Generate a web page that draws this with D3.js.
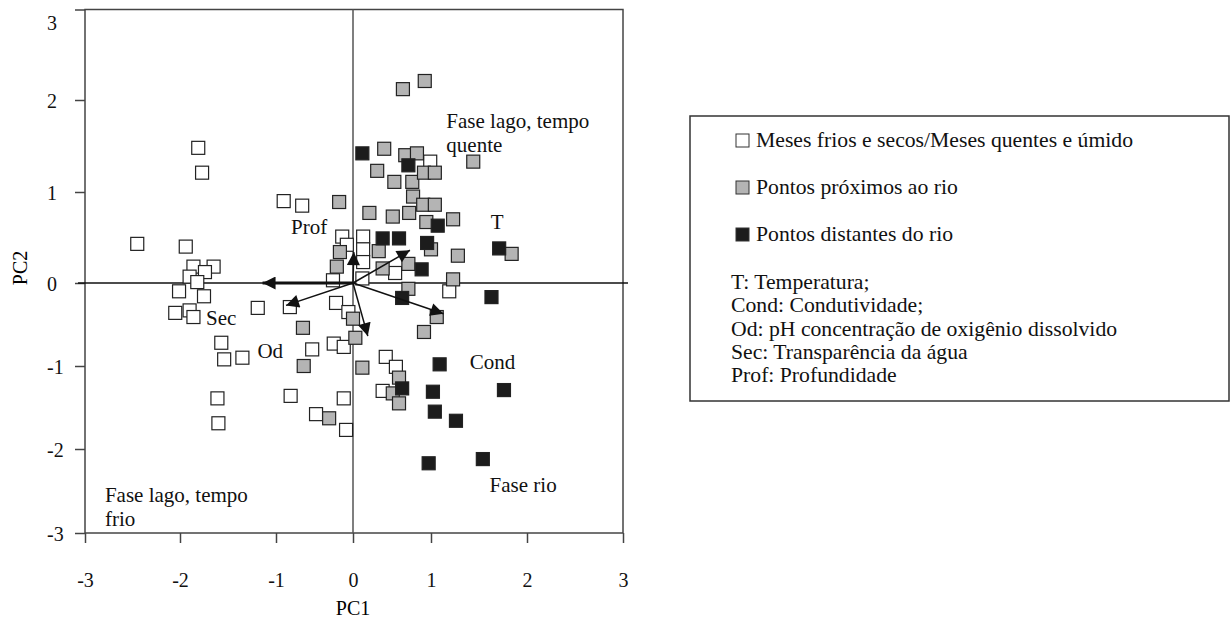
<!DOCTYPE html>
<html>
<head>
<meta charset="utf-8">
<script src="https://cdn.jsdelivr.net/npm/d3@7"></script>
<style>
  body { margin: 0; background: #fff; }
  svg { display: block; font-family: "Liberation Serif", "Times New Roman", serif; }
</style>
</head>
<body>
<script>
// tick values for both axes
var xTicks = [-3, -2, -1, 0, 1, 2, 3];
var yTicks = [-3, -2, -1, 0, 1, 2, 3];

// scores: open squares (meses frios e secos / quentes e úmido)
var whitePts = [
  [-1.81, 1.48], [-1.77, 1.21], [-2.45, 0.43], [-1.94, 0.40], [-1.86, 0.18],
  [-1.65, 0.18], [-1.74, 0.12], [-1.90, 0.07], [-1.82, 0.01], [-2.01, -0.10],
  [-1.75, -0.16], [-2.05, -0.36], [-1.90, -0.33], [-1.86, -0.41], [-1.19, -0.30],
  [-1.57, -0.72], [-1.54, -0.92], [-1.35, -0.90], [-1.61, -1.39], [-1.60, -1.69],
  [-0.90, 0.90], [-0.66, 0.85], [-0.14, 0.51], [-0.08, 0.42], [-0.26, 0.03],
  [-0.82, -0.29], [-0.22, -0.24], [-0.06, -0.35], [-0.25, -0.73], [-0.12, -0.77],
  [-0.53, -0.80], [-0.81, -1.36], [-0.12, -1.39], [-0.48, -1.58], [-0.09, -1.77],
  [0.13, 0.51], [0.13, 0.37], [0.13, 0.23], [0.12, 0.05], [0.42, -0.89],
  [0.55, -1.01], [0.38, -1.30], [1.19, -0.10], [0.54, 0.11], [0.99, 1.33]
];

// pontos próximos ao rio (grey)
var greyPts = [
  [0.64, 2.12], [0.92, 2.21], [0.40, 1.47], [0.67, 1.40], [0.82, 1.42],
  [1.44, 1.33], [0.31, 1.23], [0.53, 1.11], [0.76, 1.11], [0.91, 1.21],
  [1.04, 1.21], [0.77, 0.95], [0.90, 0.86], [1.04, 0.86], [-0.18, 0.89],
  [0.21, 0.77], [0.51, 0.73], [0.72, 0.77], [0.94, 0.67], [1.23, 0.70],
  [1.84, 0.32], [1.28, 0.30], [1.00, 0.37], [0.33, 0.35], [-0.17, 0.34],
  [-0.21, 0.18], [0.71, 0.21], [0.38, 0.16], [1.23, 0.04], [0.71, -0.07],
  [1.06, -0.41], [0.91, -0.59], [0.00, -0.43], [-0.65, -0.54], [0.03, -0.66],
  [-0.64, -1.00], [0.12, -1.02], [0.59, -1.14], [0.51, -1.33], [0.59, -1.45],
  [-0.31, -1.63]
];

// pontos distantes do rio (black)
var blackPts = [
  [0.12, 1.42], [0.71, 1.29], [1.07, 0.63], [0.38, 0.49], [0.59, 0.49],
  [0.95, 0.44], [1.71, 0.38], [0.88, 0.15], [0.63, -0.18], [1.63, -0.17],
  [1.09, -0.98], [0.63, -1.27], [1.02, -1.31], [1.76, -1.29], [1.04, -1.55],
  [1.26, -1.66], [0.97, -2.17], [1.54, -2.12]
];

// environmental vectors (loadings)
var vectors = [
  {name: "Sec", x: -1.14, y: 0.00, heavy: true},
  {name: "Od", x: -0.87, y: -0.27},
  {name: "Prof", x: 0.01, y: 0.34},
  {name: "", x: 0.19, y: -0.64},
  {name: "T", x: 0.73, y: 0.36},
  {name: "Cond", x: 1.13, y: -0.37}
];

// text labels inside the plot, in PC units
var vecLabels = [
  {text: "Prof", x: -0.57, y: 0.62},
  {text: "T", x: 1.69, y: 0.67},
  {text: "Sec", x: -1.57, y: -0.42},
  {text: "Od", x: -1.06, y: -0.81},
  {text: "Cond", x: 1.64, y: -0.95},
  {text: "Fase rio", x: 1.96, y: -2.43}
];
var phaseLabels = [
  {lines: ["Fase lago, tempo", "quente"], x: 1.16, y: 1.70},
  {lines: ["Fase lago, tempo", "frio"], x: -2.79, y: -2.63}
];

var legendItems = [
  {label: "Meses frios e secos/Meses quentes e úmido", fill: "#fff"},
  {label: "Pontos próximos ao rio", fill: "#b4b4b4"},
  {label: "Pontos distantes do rio", fill: "#1c1c1c"}
];
var legendNotes = [
  "T: Temperatura;",
  "Cond: Condutividade;",
  "Od: pH concentração de oxigênio dissolvido",
  "Sec: Transparência da água",
  "Prof: Profundidade"
];

var W = 1230, H = 619;
var svg = d3.select("body").append("svg")
    .attr("width", W)
    .attr("height", H);

// the original axes are not evenly spaced, so use piecewise scales
var x = d3.scaleLinear().domain(xTicks).range([85, 180, 276, 353, 431, 527, 623]);
var y = d3.scaleLinear().domain(yTicks).range([533, 449, 366, 283, 192, 100, 9.5]);

svg.append("defs").append("marker")
    .attr("id", "head")
    .attr("viewBox", "0 0 10 10")
    .attr("refX", 10).attr("refY", 5)
    .attr("markerUnits", "userSpaceOnUse")
    .attr("markerWidth", 16).attr("markerHeight", 13)
    .attr("orient", "auto")
  .append("path")
    .attr("d", "M0,0L10,5L0,10Z")
    .attr("fill", "#111");

// frame
svg.append("rect")
    .attr("x", x(-3)).attr("y", y(3))
    .attr("width", x(3) - x(-3)).attr("height", y(-3) - y(3))
    .attr("fill", "none").attr("stroke", "#444").attr("stroke-width", 1.5);

// axes
var gx = svg.append("g")
    .attr("transform", "translate(0," + y(-3) + ")")
    .call(d3.axisBottom(x).tickValues(xTicks).tickSize(10).tickPadding(30)
      .tickFormat(d3.format("d")));
var gy = svg.append("g")
    .attr("transform", "translate(" + x(-3) + ",0)")
    .call(d3.axisLeft(y).tickValues(yTicks).tickSize(10)
      .tickFormat(d3.format("d")));

[gx, gy].forEach(function(g) {
  g.select(".domain").remove();
  g.selectAll(".tick line").attr("stroke", "#444").attr("stroke-width", 1.5);
  g.selectAll("text").attr("font-size", 20).attr("fill", "#111")
    .attr("font-family", "Liberation Serif, Times New Roman, serif");
});
gx.selectAll("text").text(function(d) { return d < 0 ? "-" + Math.abs(d) : d; });
gy.selectAll("text")
    .text(function(d) { return d < 0 ? "-" + Math.abs(d) : d; })
    .attr("text-anchor", "start").attr("x", -38)
    .attr("dy", function(d) { return d === 3 ? "1.0em" : "0.35em"; });

// axis titles
svg.append("text")
    .attr("x", x(0)).attr("y", 615)
    .attr("text-anchor", "middle").attr("font-size", 20)
    .text("PC1");
svg.append("text")
    .attr("transform", "translate(27," + 268 + ") rotate(-90)")
    .attr("text-anchor", "middle").attr("font-size", 20)
    .text("PC2");

// zero lines
svg.append("line")
    .attr("x1", x(-3) - 7).attr("x2", x(3) + 5)
    .attr("y1", y(0)).attr("y2", y(0))
    .attr("stroke", "#111").attr("stroke-width", 1.5);
svg.append("line")
    .attr("x1", x(0)).attr("x2", x(0))
    .attr("y1", y(3)).attr("y2", y(-3))
    .attr("stroke", "#555").attr("stroke-width", 1.5);

// points
var s = 13;
function squares(data, fill) {
  svg.append("g").selectAll("rect")
      .data(data)
    .enter().append("rect")
      .attr("x", function(d) { return x(d[0]) - s / 2; })
      .attr("y", function(d) { return y(d[1]) - s / 2; })
      .attr("width", s).attr("height", s)
      .attr("fill", fill)
      .attr("stroke", "#222").attr("stroke-width", 1.2);
}
squares(whitePts, legendItems[0].fill);
squares(greyPts, legendItems[1].fill);
squares(blackPts, legendItems[2].fill);

// vectors
svg.append("g").selectAll("line")
    .data(vectors)
  .enter().append("line")
    .attr("x1", x(0)).attr("y1", y(0))
    .attr("x2", function(d) { return x(d.x); })
    .attr("y2", function(d) { return y(d.y); })
    .attr("stroke", "#111")
    .attr("stroke-width", function(d) { return d.heavy ? 3 : 1.5; })
    .attr("marker-end", "url(#head)");

// labels
svg.append("g").selectAll("text")
    .data(vecLabels)
  .enter().append("text")
    .attr("x", function(d) { return x(d.x); })
    .attr("y", function(d) { return y(d.y); })
    .attr("dy", "0.35em")
    .attr("text-anchor", "middle")
    .attr("font-size", 21)
    .attr("fill", "#111")
    .text(function(d) { return d.text; });

phaseLabels.forEach(function(p) {
  var t = svg.append("text")
      .attr("x", x(p.x)).attr("y", y(p.y))
      .attr("font-size", 21).attr("fill", "#111");
  p.lines.forEach(function(line, i) {
    t.append("tspan")
        .attr("x", x(p.x))
        .attr("dy", i === 0 ? 0 : 24)
        .text(line);
  });
});

// legend box
var lg = svg.append("g");
lg.append("rect")
    .attr("x", 690).attr("y", 116)
    .attr("width", 539).attr("height", 285)
    .attr("fill", "#fff").attr("stroke", "#333").attr("stroke-width", 1.5);

lg.selectAll(".item")
    .data(legendItems)
  .enter().append("g")
    .attr("class", "item")
    .attr("transform", function(d, i) { return "translate(736," + (140 + i * 47) + ")"; })
    .each(function(d) {
      var g = d3.select(this);
      g.append("rect")
          .attr("x", 0).attr("y", -6).attr("width", 13).attr("height", 13)
          .attr("fill", d.fill).attr("stroke", "#333").attr("stroke-width", 1);
      g.append("text")
          .attr("x", 20).attr("y", 7)
          .attr("font-size", 21.7).attr("fill", "#111")
          .text(d.label);
    });

lg.selectAll(".note")
    .data(legendNotes)
  .enter().append("text")
    .attr("class", "note")
    .attr("x", 731)
    .attr("y", function(d, i) { return 289 + i * 23.3; })
    .attr("font-size", 21.7).attr("fill", "#111")
    .text(function(d) { return d; });
</script>
</body>
</html>
